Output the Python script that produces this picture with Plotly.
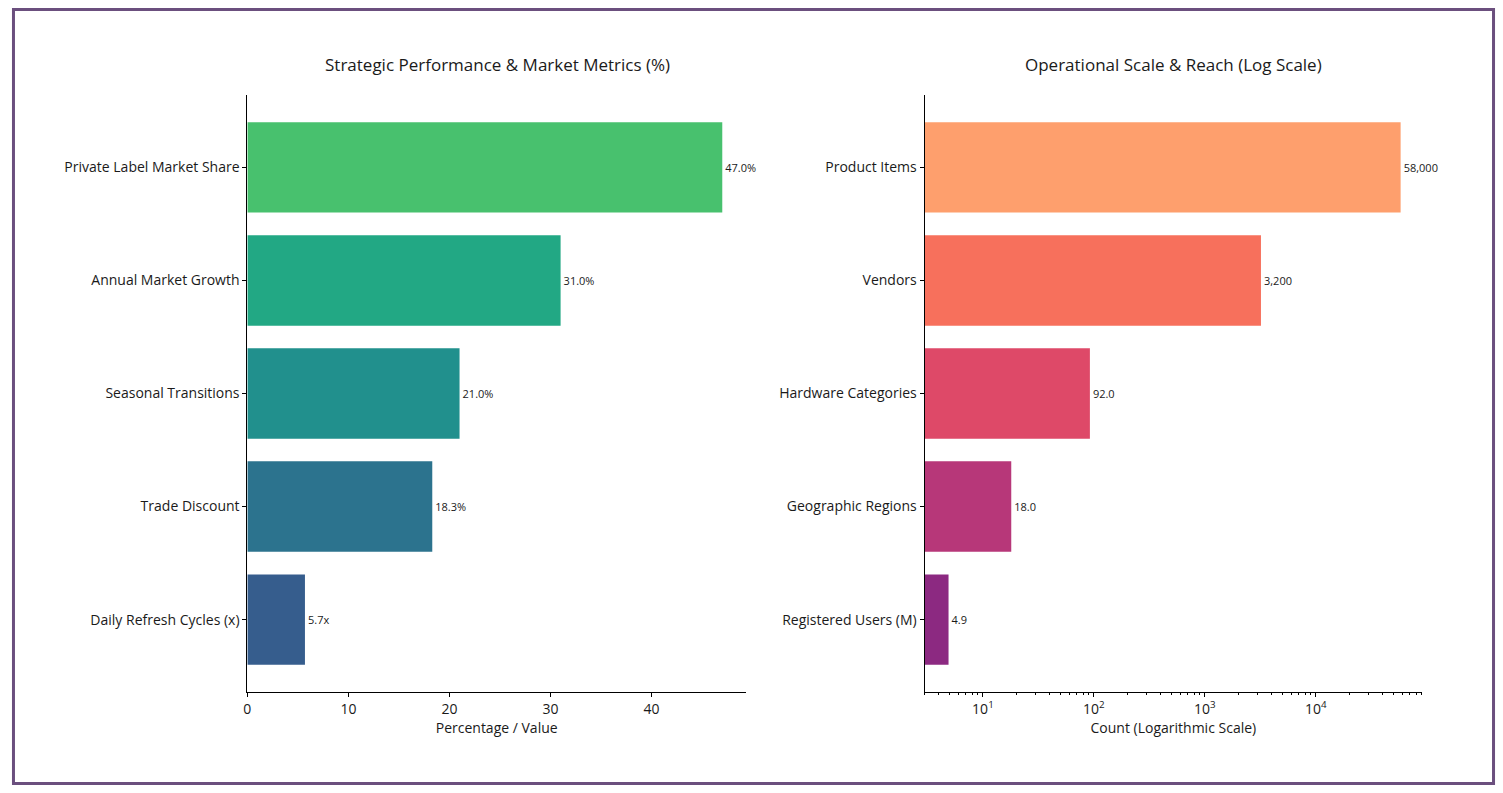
import plotly.graph_objects as go

# ---- data ----
left_categories = ["Private Label Market Share", "Annual Market Growth", "Seasonal Transitions",
                   "Trade Discount", "Daily Refresh Cycles (x)"]
left_values = [47.0, 31.0, 21.0, 18.3, 5.7]
left_labels = ["47.0%", "31.0%", "21.0%", "18.3%", "5.7x"]
left_colors = ["#48c16e", "#22a884", "#21908d", "#2c738e", "#365d8d"]

right_categories = ["Product Items", "Vendors", "Hardware Categories",
                    "Geographic Regions", "Registered Users (M)"]
right_values = [58000, 3200, 92, 18, 4.9]
right_labels = ["58,000", "3,200", "92.0", "18.0", "4.9"]
right_colors = ["#fe9f6d", "#f7705c", "#de4968", "#b73779", "#8c2981"]

log_tickvals = [10, 100, 1000, 10000]
log_ticktext = ["10<sup>1</sup>", "10<sup>2</sup>", "10<sup>3</sup>", "10<sup>4</sup>"]

W, H = 1503, 793
FONT = "Open Sans"
TXT = "#1a1a1a"

fig = go.Figure()
fig.add_trace(go.Bar(
    x=left_values, y=left_categories, orientation="h", width=0.8,
    marker=dict(color=left_colors, line=dict(width=0)),
    text=left_labels, textposition="outside", cliponaxis=False,
    textfont=dict(size=11, color=TXT, family=FONT),
    xaxis="x", yaxis="y", showlegend=False))
fig.add_trace(go.Bar(
    x=right_values, y=right_categories, orientation="h", width=0.8,
    marker=dict(color=right_colors, line=dict(width=0)),
    text=right_labels, textposition="outside", cliponaxis=False,
    textfont=dict(size=11, color=TXT, family=FONT),
    xaxis="x2", yaxis="y2", showlegend=False))

ydom = [(H - 692) / H, (H - 95) / H]
axis_common = dict(showline=True, linecolor="black", linewidth=1, showgrid=False, zeroline=False,
                   ticks="outside", ticklen=4, tickcolor="black", tickwidth=1,
                   tickfont=dict(size=14, color=TXT, family=FONT))

fig.update_layout(
    width=W, height=H, margin=dict(l=0, r=0, t=0, b=0),
    paper_bgcolor="white", plot_bgcolor="white",
    font=dict(family=FONT, color=TXT),
    xaxis=dict(domain=[244 / W, 744 / W], anchor="y", range=[0, 49.35],
               tickvals=[0, 10, 20, 30, 40],
               title=dict(text="Percentage / Value", font=dict(size=14, color=TXT, family=FONT), standoff=4),
               **axis_common),
    yaxis=dict(domain=ydom, anchor="x", type="category", categoryorder="array",
               categoryarray=left_categories, range=[4.64, -0.64], **axis_common),
    xaxis2=dict(domain=[923 / W, 1422 / W], anchor="y2", type="log", range=[0.474, 4.958],
                tickmode="array", tickvals=log_tickvals, ticktext=log_ticktext,
                minor=dict(ticks="outside", ticklen=2, tickcolor="black", dtick="D1", showgrid=False),
                title=dict(text="Count (Logarithmic Scale)", font=dict(size=14, color=TXT, family=FONT), standoff=4),
                **axis_common),
    yaxis2=dict(domain=ydom, anchor="x2", type="category", categoryorder="array",
                categoryarray=right_categories, range=[4.64, -0.64], **axis_common),
    annotations=[
        dict(text="Strategic Performance & Market Metrics (%)", xref="paper", yref="paper",
             x=494.5 / W, y=(H - 65) / H, xanchor="center", yanchor="middle", showarrow=False,
             font=dict(size=17, color=TXT, family=FONT)),
        dict(text="Operational Scale & Reach (Log Scale)", xref="paper", yref="paper",
             x=1172.5 / W, y=(H - 65) / H, xanchor="center", yanchor="middle", showarrow=False,
             font=dict(size=17, color=TXT, family=FONT)),
    ],
    shapes=[dict(type="rect", xref="paper", yref="paper",
                 x0=9.5 / W, x1=(W - 9.5) / W, y0=9.5 / H, y1=(H - 9.5) / H,
                 line=dict(color="#6b4f7e", width=3), fillcolor="rgba(0,0,0,0)")],
)

fig.write_html("out.html", config={"displayModeBar": False},
               post_script="document.body.style.margin='0';document.body.style.overflow='hidden';")
